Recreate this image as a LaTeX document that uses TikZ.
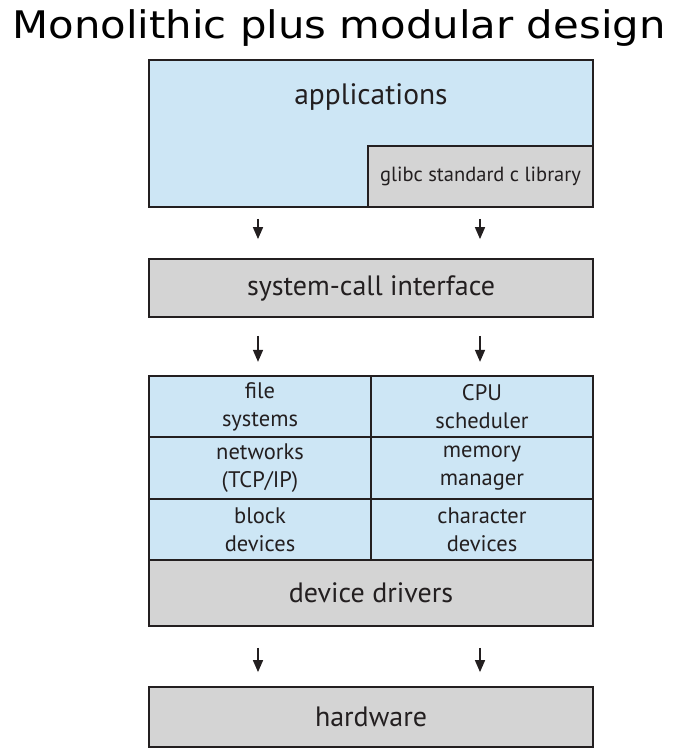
\documentclass[tikz,border=0pt]{standalone}
\usepackage{graphicx}
\usepackage{fontspec}
\setmainfont{PT Sans}
\newfontfamily\titlefont{DejaVu Sans}
\usetikzlibrary{arrows.meta}

\definecolor{boxblue}{HTML}{CDE6F5}
\definecolor{boxgray}{HTML}{D4D4D4}
\definecolor{ink}{HTML}{231F20}

\begin{document}
\begin{tikzpicture}[x=1pt,y=-1pt,
	layer/.style={draw=ink, line width=1.8pt, inner sep=0pt, text=ink},
	graylayer/.style={layer, fill=boxgray, minimum width=444pt, font=\fontsize{28}{32}\selectfont},
	cell/.style={layer, fill=boxblue, minimum width=222pt, minimum height=61.5pt, align=center, font=\fontsize{22.5}{28}\selectfont},
	down/.style={-{Triangle[length=12pt,width=10pt]}, line width=1.6pt, draw=ink}]
	\useasboundingbox (0,0) rectangle (680,754);
	% title
	\node[anchor=base, font=\titlefont\fontsize{38}{42}\selectfont] (title) at (339,39) {\scalebox{1.1}[1]{Monolithic plus modular design}};
	% user space
	\node[layer, fill=boxblue, minimum width=444pt, minimum height=147pt] (app) at (371,133.5) {};
	\node[anchor=base, text=ink, font=\fontsize{29.5}{32}\selectfont] (apptext) at (371,105) {applications};
	\node[layer, fill=boxgray, minimum width=225pt, minimum height=61pt, font=\fontsize{20.5}{24}\selectfont] (glibc) at (480.5,176.5) {glibc standard c library};
	\node[graylayer, minimum height=58pt] (sci) at (371,288) {system-call interface};
	% kernel
	\node[cell] (fs) at (260,406.5) {file\\systems};
	\node[cell] (cpu) at (482,406.5) {CPU\\scheduler};
	\node[cell] (net) at (260,468) {networks\\(TCP/IP)};
	\node[cell] (mem) at (482,468) {memory\\manager};
	\node[cell] (blk) at (260,529.5) {block\\devices};
	\node[cell] (chr) at (482,529.5) {character\\devices};
	\node[graylayer, minimum height=66pt] (drv) at (371,593) {device drivers};
	\node[graylayer, minimum height=60pt] (hw) at (371,717) {hardware};
	% arrows
	\coordinate (lcol) at (258,0);
	\coordinate (rcol) at (480,0);
	\foreach \a/\b/\s/\e in {app/sci/11/19, sci/fs/18/13, drv/hw/21/14}{
		\foreach \c in {lcol, rcol}{
			\draw[down, shorten <=\s pt, shorten >=\e pt] (\a.south -| \c) -- (\b.north -| \c);
		}
	}
\end{tikzpicture}
\end{document}
